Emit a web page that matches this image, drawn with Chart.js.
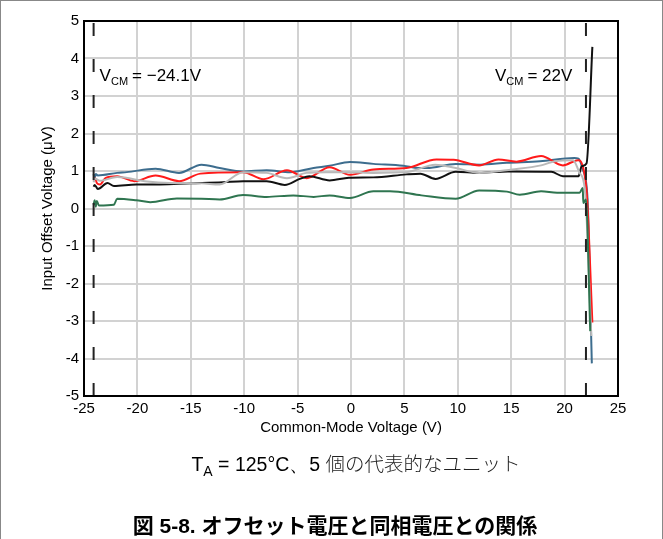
<!DOCTYPE html>
<html>
<head>
<meta charset="utf-8">
<script src="https://cdn.jsdelivr.net/npm/chart.js@4"></script>
<style>
  body { margin: 0; background: #fff; }
  #wrap { position: relative; width: 661px; height: 539px; border: 1px solid #888; border-bottom: none; }
  #chart { position: absolute; left: -1px; top: -1px; }
  .cap { position: absolute; font-family: 'Liberation Sans', Arial, sans-serif; color: #000; white-space: nowrap; text-align: center; }
  .jp { font-family: 'Noto Sans CJK JP', sans-serif; color: #222; font-weight: 300; }
  #cap1 { left: 140px; width: 430px; top: 447px; font-size: 19.5px; }
  #cap1 sub { font-size: 14px; vertical-align: -5px; line-height: 0; }
  #cap2 { left: 60px; width: 548px; top: 508px; font-size: 21px; font-weight: bold; font-family: 'Liberation Sans', 'Noto Sans CJK JP', sans-serif; }
</style>
</head>
<body>
<div id="wrap">
  <canvas id="chart" width="663" height="539"></canvas>
  <div class="cap" id="cap1">T<sub>A</sub> = 125°C、5 <span class="jp">個の代表的なユニット</span></div>
  <div class="cap" id="cap2">図 5-8. オフセット電圧と同相電圧との関係</div>
</div>
<script>
// values (x = common-mode voltage V, y = offset uV)
var blueX = [-24.1, -24.0, -23.9, -23.7, -21.9, -21.0, -18.3, -16.1, -14.0, -12.3, -10.1, -7.9, -5.7, -3.5, -2.0, -0.1, 2.1, 4.9, 6.3, 7.1, 9.8, 12.1, 14.6, 17.7, 20.9, 21.3, 21.7, 22.15, 22.55];
var blueY = [0.92, 0.80, 0.92, 0.88, 0.95, 0.97, 1.06, 0.95, 1.17, 1.08, 0.99, 1.02, 0.97, 1.08, 1.14, 1.24, 1.19, 1.14, 1.08, 1.08, 1.19, 1.17, 1.22, 1.26, 1.35, 1.33, 1.04, 0.24, -4.13];

var redX = [-24.1, -23.95, -23.8, -23.5, -23.0, -21.9, -20.3, -18.3, -16.1, -14.1, -10.1, -8.2, -6.0, -4.15, -2.0, -0.1, 2.1, 5.2, 8.0, 9.6, 12.0, 13.8, 15.5, 17.8, 19.85, 21.25, 21.7, 22.1, 22.6];
var redY = [0.73, 0.81, 0.68, 0.64, 0.81, 0.86, 0.73, 0.88, 0.73, 0.93, 0.97, 0.78, 1.02, 0.81, 1.10, 0.90, 1.04, 1.08, 1.31, 1.30, 1.15, 1.31, 1.25, 1.40, 1.15, 1.29, 1.13, 0.3, -3.04];

var grayX = [-24.1, -24.0, -23.5, -21.9, -19.1, -17.0, -14.0, -12.3, -10.1, -7.9, -6.0, -4.15, -2.3, -0.1, 2.1, 5.2, 7.9, 9.8, 12.0, 15.1, 17.8, 19.1, 20.8, 21.4, 21.9, 22.5];
var grayY = [0.70, 0.80, 0.74, 0.84, 0.72, 0.68, 0.67, 0.64, 0.97, 0.95, 0.81, 0.95, 0.97, 0.97, 0.95, 0.97, 1.17, 1.08, 0.95, 1.04, 1.15, 1.26, 1.29, 0.95, 0.5, -3.4];

var blackX = [-24.1, -24.0, -23.7, -22.8, -22.2, -20.1, -17.9, -15.0, -12.0, -10.1, -7.9, -6.2, -4.8, -3.9, -2.0, -0.2, 2.1, 5.2, 6.5, 7.9, 9.8, 12.0, 14.7, 18.75, 19.85, 21.3, 21.6, 22.05, 22.6];
var blackY = [0.58, 0.63, 0.52, 0.68, 0.60, 0.64, 0.64, 0.67, 0.70, 0.73, 0.73, 0.63, 0.79, 0.86, 0.75, 0.82, 0.83, 0.91, 0.93, 0.79, 0.98, 0.95, 0.99, 0.98, 0.86, 0.86, 1.13, 1.20, 4.31];

var greenX = [-24.1, -24.0, -23.9, -23.8, -23.6, -22.2, -21.9, -20.1, -18.8, -16.3, -14.0, -12.3, -10.1, -7.9, -5.4, -3.5, -2.0, -0.1, 2.1, 3.65, 6.6, 9.8, 12.0, 14.6, 15.8, 17.8, 19.3, 21.4, 21.7, 21.75, 22.0, 22.4];
var greenY = [0.10, 0.22, 0.05, 0.20, 0.08, 0.10, 0.26, 0.22, 0.17, 0.27, 0.26, 0.24, 0.36, 0.31, 0.35, 0.31, 0.35, 0.28, 0.46, 0.46, 0.35, 0.26, 0.48, 0.45, 0.37, 0.46, 0.42, 0.42, 0.55, 0.15, 0.24, -3.27];

var vcmLow = -24.1;
var vcmHigh = 22;
var yTicks = [-5, -4, -3, -2, -1, 0, 1, 2, 3, 4, 5];
var xTicks = [-25, -20, -15, -10, -5, 0, 5, 10, 15, 20, 25];

function pts(xs, ys) {
  return xs.map(function (x, i) { return { x: x, y: ys[i] }; });
}

function series(xs, ys, color) {
  return {
    data: pts(xs, ys),
    borderColor: color,
    borderWidth: 2,
    pointRadius: 0,
    fill: false,
    cubicInterpolationMode: 'monotone'
  };
}

function dashed(v) {
  return {
    data: [{ x: v, y: yTicks[0] }, { x: v, y: yTicks[yTicks.length - 1] }],
    borderColor: '#222',
    borderWidth: 2,
    borderDash: [13, 23],
    pointRadius: 0,
    fill: false
  };
}

var FONT = "'Liberation Sans', Arial, sans-serif";

var frameAndNotes = {
  id: 'frameAndNotes',
  afterDraw: function (chart) {
    var ctx = chart.ctx;
    var a = chart.chartArea;
    var xs = chart.scales.x;
    var ys = chart.scales.y;
    ctx.save();
    ctx.strokeStyle = '#000';
    ctx.lineWidth = 2;
    ctx.strokeRect(a.left, a.top, a.right - a.left, a.bottom - a.top);

    ctx.fillStyle = '#000';
    ctx.textBaseline = 'alphabetic';
    ctx.textAlign = 'left';
    function vcm(x, y, rest) {
      ctx.font = '17px ' + FONT;
      ctx.fillText('V', x, y);
      var w = ctx.measureText('V').width;
      ctx.font = '11px ' + FONT;
      ctx.fillText('CM', x + w, y + 4);
      var w2 = ctx.measureText('CM').width;
      ctx.font = '17px ' + FONT;
      ctx.fillText(rest, x + w + w2 + 4, y);
    }
    var by = ys.getPixelForValue(3.4);
    vcm(xs.getPixelForValue(vcmLow) + 6, by, '= \u221224.1V');
    vcm(xs.getPixelForValue(vcmHigh) - 91, by, '= 22V');

    // y axis title
    ctx.translate(48, (a.top + a.bottom) / 2);
    ctx.rotate(-Math.PI / 2);
    ctx.textAlign = 'center';
    ctx.textBaseline = 'middle';
    ctx.font = '15px ' + FONT;
    ctx.fillText('Input Offset Voltage (\u03bcV)', 0, 0);
    ctx.restore();
  }
};

var ctx = document.getElementById('chart').getContext('2d');
new Chart(ctx, {
  type: 'line',
  data: {
    datasets: [
      dashed(vcmLow),
      dashed(vcmHigh),
      series(greenX, greenY, '#2f7550'),
      series(grayX, grayY, '#b9b9b9'),
      series(blackX, blackY, '#111111'),
      series(redX, redY, '#ff1a1a'),
      series(blueX, blueY, '#3d6d8e')
    ]
  },
  options: {
    responsive: false,
    animation: false,
    layout: { padding: { left: 0, top: 21, right: 45, bottom: 102 } },
    plugins: { legend: { display: false }, tooltip: { enabled: false } },
    scales: {
      x: {
        type: 'linear',
        min: xTicks[0],
        max: xTicks[xTicks.length - 1],
        afterBuildTicks: function (s) { s.ticks = xTicks.map(function (v) { return { value: v }; }); },
        afterFit: function (s) { s.height = 41; },
        grid: { color: '#d2d2d2', lineWidth: 2, drawTicks: false },
        border: { display: false },
        ticks: { color: '#000', padding: 4, maxRotation: 0, font: { family: FONT, size: 15 } },
        title: { display: true, text: 'Common-Mode Voltage (V)', color: '#000', padding: 0, font: { family: FONT, size: 15 } }
      },
      y: {
        min: yTicks[0],
        max: yTicks[yTicks.length - 1],
        afterBuildTicks: function (s) { s.ticks = yTicks.map(function (v) { return { value: v }; }); },
        afterFit: function (s) { s.width = 84; },
        grid: { color: '#d2d2d2', lineWidth: 2, drawTicks: false },
        border: { display: false },
        ticks: { color: '#000', padding: 5, font: { family: FONT, size: 15 } }
      }
    }
  },
  plugins: [frameAndNotes]
});
</script>
</body>
</html>
